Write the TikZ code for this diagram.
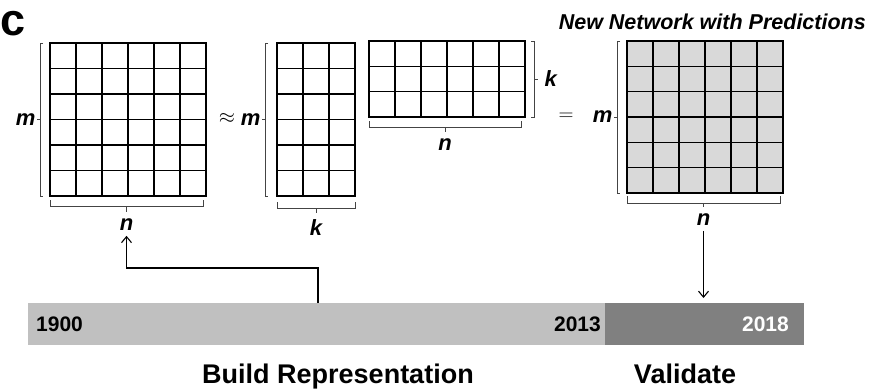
\documentclass[tikz,border=0pt]{standalone}
\usepackage{fontspec}
\setmainfont{Liberation Sans}
\usetikzlibrary{arrows.meta,calc}
\definecolor{lightbar}{HTML}{C0C0C0}
\definecolor{darkbar}{HTML}{808080}
\definecolor{cellfill}{HTML}{D9D9D9}
\definecolor{brkcol}{HTML}{444444}
\newcommand\matgrid[8]{%
  \node[matbox, fill=#8, minimum width=#4pt, minimum height=#5pt, anchor=north west] (#1) at (#2,#3) {};
  \foreach \i in {2,...,#6} {\draw[gridline] ($(#1.north west)!{(\i-1)/#6}!(#1.north east)$) -- ($(#1.south west)!{(\i-1)/#6}!(#1.south east)$);}
  \foreach \j in {2,...,#7} {\draw[gridline] ($(#1.north west)!{(\j-1)/#7}!(#1.south west)$) -- ($(#1.north east)!{(\j-1)/#7}!(#1.south east)$);}
}
\begin{document}
\begin{tikzpicture}[x=1pt,y=-1pt,
  matbox/.style={draw=black, line width=1.5pt, inner sep=0pt, outer sep=0pt},
  gridline/.style={line width=1.5pt, black},
  brk/.style={line width=1pt, brkcol},
  lab/.style={font=\fontsize{22}{22}\selectfont\bfseries\itshape, inner sep=1pt, text=black},
  yr/.style={font=\fontsize{21}{21}\selectfont\bfseries, inner sep=0pt},
  big/.style={font=\fontsize{27}{27}\selectfont\bfseries, inner sep=0pt},
  op/.style={font=\fontsize{21}{21}\selectfont, inner sep=0pt, text=black},
  conn/.style={line width=1.1pt, black, -{Straight Barb[length=6pt,width=10pt]}},
]
\useasboundingbox (0,0) rectangle (872,389);
\fill[white] (0,0) rectangle (872,389);

% panel letter and title
\node[font=\fontsize{45}{45}\selectfont\bfseries, inner sep=0pt, anchor=base west] (panel) at (0,35) {c};
\node[font=\fontsize{21.5}{21.5}\selectfont\bfseries\itshape, inner sep=0pt, anchor=base east] (title) at (866,29) {New Network with Predictions};

% matrices
\matgrid{A}{50}{43}{156}{153}{6}{6}{white}
\matgrid{B}{277}{43}{78}{153}{3}{6}{white}
\matgrid{C}{369}{41}{156}{76}{6}{3}{white}
\matgrid{D}{627}{41}{156}{152}{6}{6}{cellfill}

% matrix A brackets
\draw[brk] ([xshift=-7pt]A.north west) -- ([xshift=-10pt]A.north west) -- ([xshift=-10pt]A.south west) -- ([xshift=-7pt]A.south west);
\draw[brk] ([xshift=-10pt]A.west) -- ([xshift=-13pt]A.west) node[lab, anchor=east] (mA) {m};
\draw[brk] ([yshift=-4pt]A.south west) -- ([yshift=-10pt]A.south west) -- ([shift={(-3pt,-10pt)}]A.south east) -- ([shift={(-3pt,-4pt)}]A.south east);
\draw[brk] ([shift={(-1.5pt,-10pt)}]A.south) -- ++(0,6) node[lab, below=5pt] (nA) {n};

% approx
\node[op] (approx) at (227,118) {$\approx$};

% matrix B brackets
\draw[brk] ([xshift=-9pt]B.north west) -- ([xshift=-12pt]B.north west) -- ([xshift=-12pt]B.south west) -- ([xshift=-9pt]B.south west);
\draw[brk] ([xshift=-12pt]B.west) -- ([xshift=-15pt]B.west) node[lab, anchor=east] (mB) {m};
\draw[brk] ([yshift=-6pt]B.south west) -- ([yshift=-12pt]B.south west) -- ([yshift=-12pt]B.south east) -- ([yshift=-6pt]B.south east);
\draw[brk] ([yshift=-12pt]B.south) -- ++(0,5) node[lab, below=5pt] (kB) {k};

% matrix C brackets
\draw[brk] ([xshift=6pt]C.north east) -- ([xshift=9pt]C.north east) -- ([xshift=9pt]C.south east) -- ([xshift=6pt]C.south east);
\draw[brk] ([xshift=9pt]C.east) -- ([xshift=13pt]C.east) node[lab, anchor=west, xshift=5pt] (kC) {k};
\draw[brk] ([yshift=-4pt]C.south west) -- ([yshift=-10pt]C.south west) -- ([shift={(-4pt,-10pt)}]C.south east) -- ([shift={(-4pt,-4pt)}]C.south east);
\draw[brk] ([shift={(-2pt,-10pt)}]C.south) -- ++(0,5) node[lab, below=5pt] (nC) {n};

% equals
\node[op] (equals) at (566,117) {$=$};

% matrix D brackets
\draw[brk] ([xshift=-7pt]D.north west) -- ([xshift=-10pt]D.north west) -- ([xshift=-10pt]D.south west) -- ([xshift=-7pt]D.south west);
\draw[brk] ([xshift=-10pt]D.west) -- ([xshift=-13pt]D.west) node[lab, anchor=east] (mD) {m};
\draw[brk] ([yshift=-3pt]D.south west) -- ([yshift=-10pt]D.south west) -- ([shift={(-3pt,-10pt)}]D.south east) -- ([shift={(-3pt,-3pt)}]D.south east);
\draw[brk] ([shift={(-1.5pt,-10pt)}]D.south) -- ++(0,4) node[lab, below=5pt] (nD) {n};

% timeline
\node[fill=lightbar, minimum width=577pt, minimum height=42pt, inner sep=0pt, outer sep=0pt, anchor=north west] (barL) at (28,303) {};
\node[fill=darkbar, minimum width=199pt, minimum height=42pt, inner sep=0pt, outer sep=0pt, anchor=north west] (barR) at (605,303) {};
\node[yr, anchor=west] (y1900) at ([xshift=8pt]barL.west) {1900};
\node[yr, anchor=east] (y2013) at ([xshift=-4pt]barL.east) {2013};
\node[yr, anchor=east, text=white] (y2018) at ([xshift=-15pt]barR.east) {2018};

\node[big, anchor=base] (build) at (338,383) {Build Representation};
\node[big, anchor=base] (valid) at (685,383) {Validate};

% connectors
\coordinate (tap) at (318,303);
\coordinate (bend) at (318,268);
\draw[conn, shorten >=4pt] (tap) -- (bend) -| (nA.south);
\draw[conn, shorten <=4pt, shorten >=5pt] (nD.south) -- (nD.south |- barR.north);
\end{tikzpicture}
\end{document}
